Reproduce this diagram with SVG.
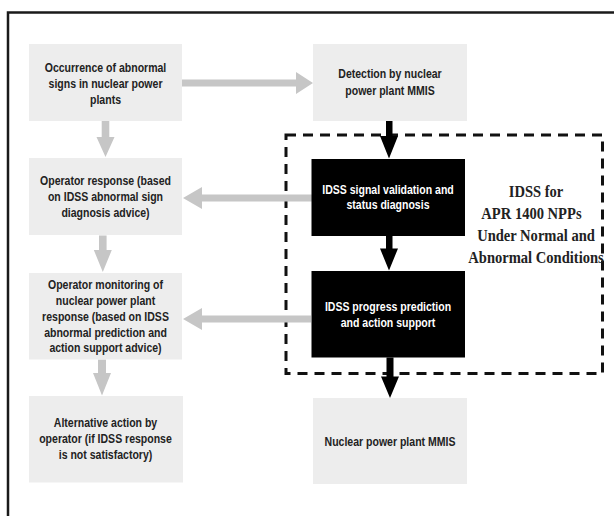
<svg xmlns="http://www.w3.org/2000/svg" width="614" height="516" viewBox="0 0 614 516">
<style>
.box{fill:#ededed;}
.blk{fill:#000;}
.t{font-family:"Liberation Sans",Arial,sans-serif;font-size:13px;font-weight:bold;fill:#222;text-anchor:middle;}
.tw{font-family:"Liberation Sans",Arial,sans-serif;font-size:13px;font-weight:bold;fill:#fff;text-anchor:middle;}
.lbl{font-family:"Liberation Serif","Times New Roman",serif;font-size:16px;font-weight:bold;fill:#222;text-anchor:middle;}
.ga{fill:#c6c6c6;}
.ba{fill:#000;}
</style>
<rect x="0" y="0" width="614" height="516" fill="#fff"/>
<rect x="8" y="12.5" width="640" height="540" fill="none" stroke="#1a1a1a" stroke-width="2.5"/>

<g id="idss-group">
<rect x="286" y="135" width="316.5" height="238.5" fill="none" stroke="#111" stroke-width="3" stroke-dasharray="10 7"/>
<g transform="translate(536,0) scale(0.91,1)">
<text class="lbl" x="0" y="197">IDSS for</text>
<text class="lbl" x="-5" y="219">APR 1400 NPPs</text>
<text class="lbl" x="0" y="241">Under Normal and</text>
<text class="lbl" x="0" y="263">Abnormal Conditions</text>
</g>
</g>

<g id="connectors">
<polygon class="ga" points="182,79.5 296,79.5 296,72 313,83 296,94 296,86.5 182,86.5"/>
<polygon class="ga" points="101.7,121 109.3,121 109.3,137 114.5,137 105.5,157 96.5,137 101.7,137"/>
<polygon class="ga" points="313,194.5 202,194.5 202,187 183,198 202,209 202,201.5 313,201.5"/>
<polygon class="ga" points="99,235.5 106.6,235.5 106.6,250 111.8,250 102.8,272 93.8,250 99,250"/>
<polygon class="ga" points="311,315.5 202,315.5 202,308 183,319 202,330 202,322.5 311,322.5"/>
<polygon class="ga" points="98,359.5 106,359.5 106,373 111,373 102,395.5 93,373 98,373"/>
<polygon class="ba" points="386,121 392.5,121 392.5,136 398,136 389,158.5 380,136 386,136"/>
<polygon class="ba" points="386,236 392.5,236 392.5,248.5 398,248.5 389,270.5 380,248.5 386,248.5"/>
<polygon class="ba" points="386.5,357.5 393.5,357.5 393.5,376.5 399,376.5 390,398 381,376.5 386.5,376.5"/>
</g>

<g id="occurrence">
<rect class="box" x="29" y="44" width="153" height="77"/>
<g transform="translate(105.5,0) scale(0.81,1)">
<text class="t" x="0" y="72">Occurrence of abnormal</text>
<text class="t" x="0" y="88">signs in nuclear power</text>
<text class="t" x="0" y="104">plants</text>
</g>
</g>

<g id="detection">
<rect class="box" x="313" y="44" width="154" height="77"/>
<g transform="translate(390,0) scale(0.81,1)">
<text class="t" x="0" y="78.5">Detection by nuclear</text>
<text class="t" x="0" y="95">power plant MMIS</text>
</g>
</g>

<g id="operator-response">
<rect class="box" x="29" y="158" width="153" height="77"/>
<g transform="translate(105.5,0) scale(0.81,1)">
<text class="t" x="0" y="185">Operator response (based</text>
<text class="t" x="0" y="201">on IDSS abnormal sign</text>
<text class="t" x="0" y="217">diagnosis advice)</text>
</g>
</g>

<g id="signal-validation">
<rect class="blk" x="311.5" y="159" width="153.5" height="77"/>
<g transform="translate(388,0) scale(0.81,1)">
<text class="tw" x="0" y="194">IDSS signal validation and</text>
<text class="tw" x="0" y="209.5">status diagnosis</text>
</g>
</g>

<g id="operator-monitoring">
<rect class="box" x="29" y="273" width="153" height="86.5"/>
<g transform="translate(105.5,0) scale(0.81,1)">
<text class="t" x="0" y="289.5">Operator monitoring of</text>
<text class="t" x="0" y="305.3">nuclear power plant</text>
<text class="t" x="0" y="321">response (based on IDSS</text>
<text class="t" x="0" y="336.8">abnormal prediction and</text>
<text class="t" x="0" y="352.5">action support advice)</text>
</g>
</g>

<g id="progress-prediction">
<rect class="blk" x="311.5" y="271" width="153.5" height="86.5"/>
<g transform="translate(388,0) scale(0.81,1)">
<text class="tw" x="0" y="311">IDSS progress prediction</text>
<text class="tw" x="0" y="327">and action support</text>
</g>
</g>

<g id="alternative-action">
<rect class="box" x="29" y="396" width="154" height="86.5"/>
<g transform="translate(105.5,0) scale(0.81,1)">
<text class="t" x="0" y="427.3">Alternative action by</text>
<text class="t" x="0" y="443.3">operator (if IDSS response</text>
<text class="t" x="0" y="459.3">is not satisfactory)</text>
</g>
</g>

<g id="mmis">
<rect class="box" x="313" y="398" width="154" height="86"/>
<g transform="translate(390,0) scale(0.81,1)">
<text class="t" x="0" y="446">Nuclear power plant MMIS</text>
</g>
</g>
</svg>
